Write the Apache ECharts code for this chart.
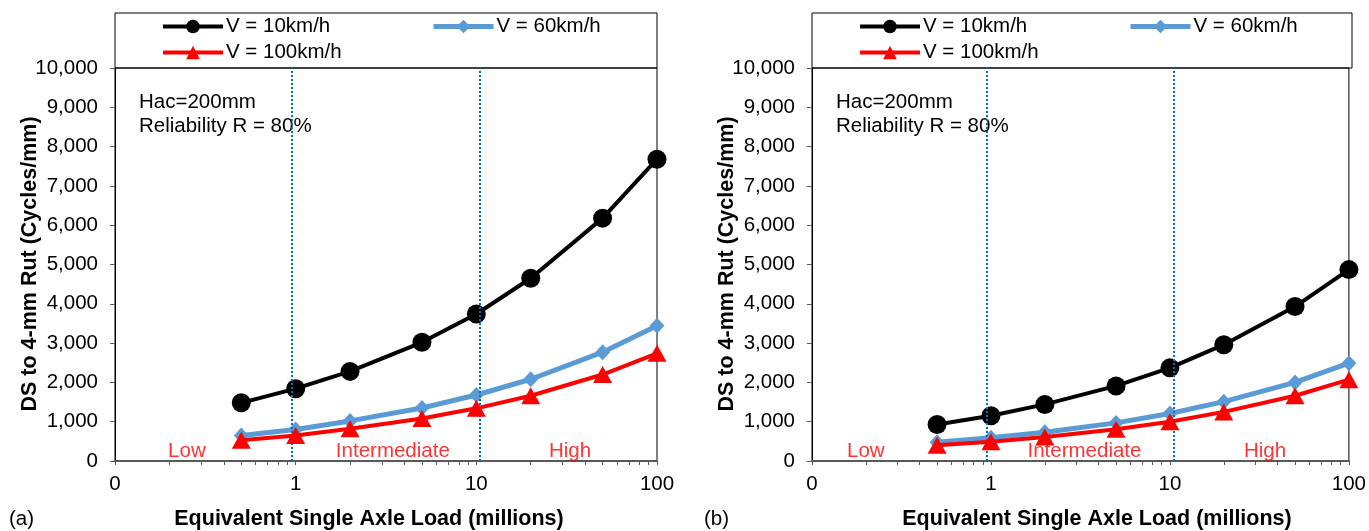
<!DOCTYPE html>
<html>
<head>
<meta charset="utf-8">
<script src="https://cdn.jsdelivr.net/npm/echarts@6/dist/echarts.min.js"></script>
<style>
  html, body { margin: 0; padding: 0; background: #fff; }
  #chart { width: 1369px; height: 531px; }
</style>
</head>
<body>
<div id="chart"></div>
<script>
// ESAL (millions)
const esal = [0.5, 1, 2, 5, 10, 20, 50, 100]

// panel (a)
const aV10 = [1480, 1840, 2280, 3020, 3740, 4650, 6180, 7680]
const aV60 = [650, 800, 1020, 1350, 1680, 2080, 2770, 3440]
const aV100 = [530, 650, 820, 1080, 1340, 1660, 2200, 2740]

// panel (b)
const bV10 = [930, 1150, 1440, 1910, 2370, 2960, 3930, 4870]
const bV60 = [480, 590, 730, 970, 1210, 1510, 2000, 2490]
const bV100 = [400, 490, 610, 810, 1000, 1250, 1660, 2070]

const seriesNames = ['V = 10km/h', 'V = 60km/h', 'V = 100km/h']
const xTickLabels = [0.1, 1, 10, 100]
const xMinorTicks = [0.1, 0.2, 0.3, 0.4, 0.5, 0.6, 0.7, 0.8, 0.9, 1, 2, 3, 4, 5, 6, 7, 8, 9, 10,
  20, 30, 40, 50, 60, 70, 80, 90, 100]
const dividers = [0.95, 10.5]
const zoneNames = ['Low', 'Intermediate', 'High']
const aZoneX = [0.25, 3.45, 33]
const bZoneX = [0.2, 3.33, 34]
const zoneY = 250

const FONT = 'Liberation Sans, Arial, Helvetica, sans-serif'
const FS = 20.5
const chart = echarts.init(document.getElementById('chart'))

const pair = vals => esal.map((x, i) => [x, vals[i]])

const styles = [
  { symbol: 'circle', size: 19, color: '#000000', width: 4, z: 4 },
  { symbol: 'diamond', size: [15, 16], color: '#5B9BD5', width: 5, z: 3 },
  { symbol: 'triangle', size: [19, 17], color: '#FF0000', width: 4, z: 5 }
]

function lineSeries(idx, name, vals, style) {
  return {
    name,
    type: 'line',
    xAxisIndex: idx,
    yAxisIndex: idx,
    data: pair(vals),
    symbol: style.symbol,
    symbolSize: style.size,
    itemStyle: { color: style.color },
    lineStyle: { color: style.color, width: style.width },
    z: style.z
  }
}

function panelSeries(idx, data, zoneX) {
  const out = data.map((vals, i) => lineSeries(idx, seriesNames[i], vals, styles[i]))
  // dotted traffic-level dividers
  out[0].markLine = {
    silent: true,
    symbol: 'none',
    label: { show: false },
    lineStyle: { color: '#0070C0', type: 'dotted', width: 2 },
    data: dividers.map(v => ({ xAxis: v }))
  }
  // zone labels
  out.push({
    type: 'scatter',
    xAxisIndex: idx,
    yAxisIndex: idx,
    symbolSize: 0,
    silent: true,
    data: zoneX.map((x, i) => ({ value: [x, zoneY], name: zoneNames[i] })),
    label: {
      show: true,
      position: 'inside',
      formatter: p => p.name,
      color: '#FF0000',
      fontSize: FS,
      fontFamily: FONT
    }
  })
  return out
}

function xAxis(idx) {
  return {
    type: 'log',
    gridIndex: idx,
    min: 0.1,
    max: 100,
    logBase: 10,
    axisLine: { show: true, onZero: false, lineStyle: { color: '#595959', width: 2 } },
    axisTick: { show: true, length: 4, customValues: xMinorTicks, lineStyle: { color: '#595959' } },
    axisLabel: {
      fontSize: FS, color: '#000', fontFamily: FONT, margin: 13,
      customValues: xTickLabels,
      formatter: v => (v < 0.5 ? '0' : String(Math.round(v)))
    },
    splitLine: { show: false },
    minorTick: { show: false }
  }
}

function yAxis(idx) {
  return {
    type: 'value',
    gridIndex: idx,
    min: 0,
    max: 10000,
    interval: 1000,
    axisLine: { show: true, lineStyle: { color: '#000', width: 1 } },
    axisTick: { show: true, length: 5, lineStyle: { color: '#595959' } },
    axisLabel: {
      fontSize: FS, color: '#000', fontFamily: FONT, margin: 17,
      formatter: v => v.toLocaleString('en-US')
    },
    splitLine: { show: false }
  }
}

const panels = [
  { left: 115, right: 657, tag: '(a)', tagX: 9, titleX: 369, yTitleX: 30 },
  { left: 812, right: 1352, tag: '(b)', tagX: 704, titleX: 1097, yTitleX: 727 }
]

function legendItem(name, style, left, top) {
  return {
    data: [name],
    left, top,
    itemWidth: 60,
    itemHeight: 17,
    itemGap: 5,
    selectedMode: false,
    lineStyle: { width: style.width },
    textStyle: { fontSize: FS, lineHeight: 20, color: '#000', fontFamily: FONT, padding: [0, 0, 0, -2] },
    padding: 0
  }
}

const legends = []
const graphics = []
panels.forEach(p => {
  const off = p.left + 46
  legends.push(legendItem(seriesNames[0], styles[0], off, 16))
  legends.push(legendItem(seriesNames[1], styles[1], off + 270, 16))
  legends.push(legendItem(seriesNames[2], styles[2], off, 42))
  graphics.push({
    type: 'rect',
    shape: { x: p.left, y: 13, width: p.right - p.left, height: 55 },
    style: { fill: 'none', stroke: '#000', lineWidth: 1 },
    silent: true
  })
  graphics.push({
    type: 'text',
    left: p.left + 24,
    top: 90,
    style: {
      text: 'Hac=200mm\nReliability R = 80%',
      fontSize: FS,
      lineHeight: 24,
      fontFamily: FONT,
      fill: '#000'
    }
  })
  graphics.push({
    type: 'text',
    x: p.yTitleX,
    y: 264,
    rotation: Math.PI / 2,
    style: {
      text: 'DS to 4-mm Rut (Cycles/mm)',
      fontSize: 21.5,
      fontWeight: 'bold',
      fontFamily: FONT,
      fill: '#000',
      align: 'center',
      verticalAlign: 'middle'
    }
  })
  graphics.push({
    type: 'text',
    x: p.titleX,
    y: 519,
    style: {
      text: 'Equivalent Single Axle Load (millions)',
      fontSize: 21.5,
      fontWeight: 'bold',
      fontFamily: FONT,
      fill: '#000',
      align: 'center',
      verticalAlign: 'middle'
    }
  })
  graphics.push({
    type: 'text',
    x: p.tagX,
    y: 519,
    style: { text: p.tag, fontSize: FS, fontFamily: FONT, fill: '#000', verticalAlign: 'middle' }
  })
})

chart.setOption({
  animation: false,
  backgroundColor: '#fff',
  grid: panels.map(p => ({
    left: p.left,
    width: p.right - p.left,
    top: 68,
    bottom: 70,
    show: true,
    borderColor: '#000',
    borderWidth: 1,
    backgroundColor: 'transparent'
  })),
  legend: legends,
  xAxis: [xAxis(0), xAxis(1)],
  yAxis: [yAxis(0), yAxis(1)],
  graphic: graphics,
  series: [
    ...panelSeries(0, [aV10, aV60, aV100], aZoneX),
    ...panelSeries(1, [bV10, bV60, bV100], bZoneX)
  ]
})

window.addEventListener('resize', () => chart.resize())
</script>
</body>
</html>
